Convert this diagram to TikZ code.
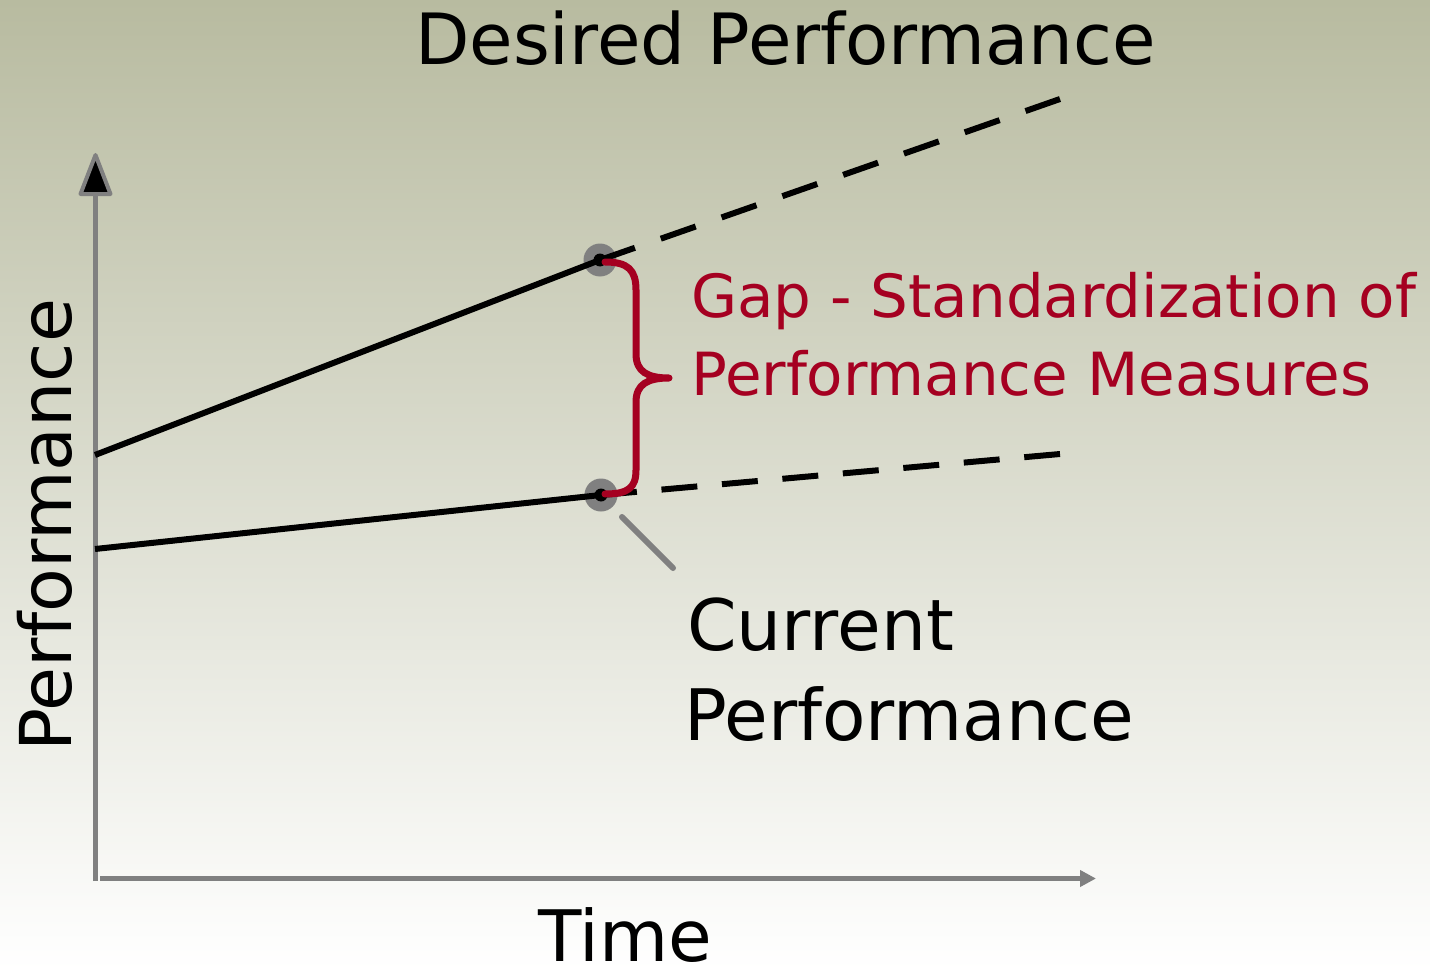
\documentclass[tikz,border=0pt]{standalone}
\usepackage{fontspec}
\setmainfont{DejaVu Sans}
\usetikzlibrary{arrows.meta}
\definecolor{bgtop}{RGB}{184,187,160}
\definecolor{gapred}{RGB}{165,0,33}
\definecolor{axisgray}{RGB}{128,128,128}
\begin{document}
\begin{tikzpicture}[x=1pt,y=-1pt,
  perf/.style={line width=6pt, black},
  dashperf/.style={line width=6pt, black},
  axisline/.style={line width=5pt, axisgray},
  dotnode/.style={circle, fill=axisgray, minimum size=33pt, inner sep=0pt},
  lbl/.style={inner sep=0pt, anchor=base west}]
\shade[top color=bgtop, bottom color=white] (0,0) rectangle (1430,971);
\useasboundingbox (0,0) rectangle (1430,971);
% axes
\coordinate (O) at (95.5,881);
\coordinate (ytop) at (95.5,192);
\coordinate (xs) at (100,878.5);
\coordinate (xe) at (1096,878.5);
\draw[axisline] (O) -- (ytop);
\filldraw[draw=axisgray, line width=4pt, fill=black, line join=round]
  (95.5,155) -- (110.5,194) -- (80.5,194) -- cycle;
\draw[axisline, -{Triangle[length=16pt,width=16pt]}] (xs) -- (xe);
% performance lines
\node[dotnode] (d1) at (600,260) {};
\node[dotnode] (d2) at (601,495) {};
\coordinate (u0) at (95,455);
\coordinate (ue) at (1060,99);
\coordinate (l0) at (95,549);
\coordinate (le) at (1060,454);
\draw[perf] (u0) -- (d1.center);
\draw[perf] (l0) -- (d2.center);
\draw[dashperf, dash pattern=on 37pt off 27.4pt] (d1.center) -- (ue);
\draw[dashperf, dash pattern=on 36pt off 24.7pt] (d2.center) -- (le);
\fill[black] (d1.center) circle (6.5pt);
\fill[black] (d2.center) circle (6.5pt);
% brace
\draw[gapred, line width=7pt, line cap=round, line join=round]
  (605,262) .. controls (628,262) and (636,270) .. (636,290) -- (636,354)
  .. controls (636,372) and (648,378) .. (669,378)
  .. controls (648,378) and (636,384) .. (636,402) -- (636,470)
  .. controls (636,488) and (628,494) .. (605,494);
% pointer
\coordinate (p1) at (622,517);
\coordinate (p2) at (673,568);
\draw[axisgray, line width=6pt, line cap=round] (p1) -- (p2);
% labels
\node[lbl, font=\fontsize{70.7}{84}\selectfont] (desired) at (415,65) {Desired Performance};
\node[lbl, font=\fontsize{59.5}{72}\selectfont, text=gapred] (gap1) at (691,317) {Gap - Standardization of};
\node[lbl, font=\fontsize{59.5}{72}\selectfont, text=gapred] (gap2) at (691,395) {Performance Measures};
\node[lbl, font=\fontsize{71}{84}\selectfont] (cur1) at (687,650) {Current};
\node[lbl, font=\fontsize{71}{84}\selectfont] (cur2) at (684,740) {Performance};
\node[lbl, font=\fontsize{71}{82}\selectfont] (time) at (538,961) {Time};
\node[lbl, font=\fontsize{71.5}{84}\selectfont, rotate=90] (yl) at (71,752) {Performance};
\end{tikzpicture}
\end{document}
